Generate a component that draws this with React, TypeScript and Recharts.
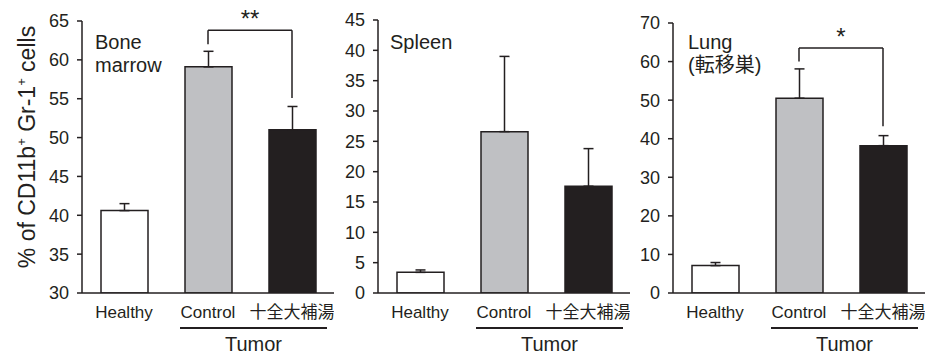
import React from 'react';
import { BarChart, Bar, XAxis, YAxis, Cell, ErrorBar, ReferenceLine } from 'recharts';

const INK = '#231f20';
const FONT = '"Liberation Sans", Arial, "Noto Sans CJK JP", sans-serif';

const groups = ['Healthy', 'Control', '十全大補湯'];
const groupColors = ['#ffffff', '#bfc0c3', '#231f20'];

// mean and upper SD
const boneMarrowMean = [40.6, 59.1, 51.0];
const boneMarrowErr = [0.9, 2.0, 3.0];
const spleenMean = [3.4, 26.6, 17.6];
const spleenErr = [0.4, 12.4, 6.2];
const lungMean = [7.1, 50.5, 38.2];
const lungErr = [0.8, 7.6, 2.6];

const boneMarrowTicks = [30, 35, 40, 45, 50, 55, 60, 65];
const spleenTicks = [0, 5, 10, 15, 20, 25, 30, 35, 40, 45];
const lungTicks = [0, 10, 20, 30, 40, 50, 60, 70];

// significance brackets: [start over Control, top, end over 十全大補湯]
const boneMarrowBracket = [62.0, 63.8, 55.1];
const lungBracket = [60.0, 63.5, 43.2];

function Panel({ left, top, title, mean, err, ticks, bracket, mark }: any) {
  const data = groups.map((g, i) => ({ group: g, value: mean[i], err: [0, err[i]] }));
  return (
    <div style={{ position: 'absolute', left, top: 0 }}>
      <BarChart width={334} height={356} data={data} margin={{ top, right: 0, bottom: 0, left: 0 }}>
        <XAxis
          dataKey="group"
          interval={0}
          height={63}
          axisLine={{ stroke: INK, strokeWidth: 1.5 }}
          tickLine={false}
          tickSize={0}
          tickMargin={13}
          tick={{ fill: INK, fontSize: 17, fontFamily: FONT }}
        />
        <YAxis
          width={82}
          domain={[ticks[0], ticks[ticks.length - 1]]}
          ticks={ticks}
          allowDataOverflow
          axisLine={{ stroke: INK, strokeWidth: 1.5 }}
          tickLine={{ stroke: INK, strokeWidth: 1.5 }}
          tickSize={5}
          tickMargin={8}
          tick={{ fill: INK, fontSize: 18, fontFamily: FONT }}
        />
        <Bar dataKey="value" barSize={47} stroke={INK} strokeWidth={1.5} isAnimationActive={false}>
          {data.map((d, i) => (
            <Cell key={`cell-${i}`} fill={groupColors[i]} />
          ))}
          <ErrorBar dataKey="err" direction="y" width={5} stroke={INK} strokeWidth={1.5} />
        </Bar>
        {bracket && (
          <ReferenceLine
            segment={[{ x: groups[1], y: bracket[0] }, { x: groups[1], y: bracket[1] }]}
            stroke={INK}
            strokeWidth={1.5}
          />
        )}
        {bracket && (
          <ReferenceLine
            segment={[{ x: groups[1], y: bracket[1] }, { x: groups[2], y: bracket[1] }]}
            stroke={INK}
            strokeWidth={1.5}
            label={{ value: mark, position: 'top', offset: 3, fill: INK, fontSize: 24, fontFamily: FONT }}
          />
        )}
        {bracket && (
          <ReferenceLine
            segment={[{ x: groups[2], y: bracket[1] }, { x: groups[2], y: bracket[2] }]}
            stroke={INK}
            strokeWidth={1.5}
          />
        )}
      </BarChart>
      <div
        style={{
          position: 'absolute',
          left: title.left,
          top: 31,
          fontSize: 20,
          lineHeight: '23px',
          color: INK,
          whiteSpace: 'pre',
        }}
      >
        {title.text}
      </div>
      <div style={{ position: 'absolute', left: 180, top: 327, width: 147, height: 1.5, background: INK }} />
      <div
        style={{
          position: 'absolute',
          left: 180,
          width: 147,
          top: 333,
          textAlign: 'center',
          fontSize: 20,
          lineHeight: '23px',
          color: INK,
        }}
      >
        Tumor
      </div>
    </div>
  );
}

export default function App() {
  return (
    <div
      style={{
        position: 'absolute',
        left: 0,
        top: 0,
        width: 925,
        height: 356,
        background: '#fff',
        fontFamily: FONT,
        overflow: 'hidden',
      }}
    >
      <div
        style={{
          position: 'absolute',
          left: 22 - 160,
          top: 147 - 14,
          width: 320,
          height: 28,
          lineHeight: '28px',
          textAlign: 'center',
          transform: 'rotate(-90deg)',
          fontSize: 23,
          color: INK,
          whiteSpace: 'nowrap',
        }}
      >
        % of CD11b<sup style={{ fontSize: 13 }}>+</sup> Gr-1<sup style={{ fontSize: 13 }}>+</sup> cells
      </div>
      <Panel
        left={0}
        top={21}
        title={{ text: 'Bone\nmarrow', left: 95 }}
        mean={boneMarrowMean}
        err={boneMarrowErr}
        ticks={boneMarrowTicks}
        bracket={boneMarrowBracket}
        mark="**"
      />
      <Panel
        left={296}
        top={20}
        title={{ text: 'Spleen', left: 94 }}
        mean={spleenMean}
        err={spleenErr}
        ticks={spleenTicks}
      />
      <Panel
        left={591}
        top={23}
        title={{ text: 'Lung\n(転移巣)', left: 97 }}
        mean={lungMean}
        err={lungErr}
        ticks={lungTicks}
        bracket={lungBracket}
        mark="*"
      />
    </div>
  );
}
